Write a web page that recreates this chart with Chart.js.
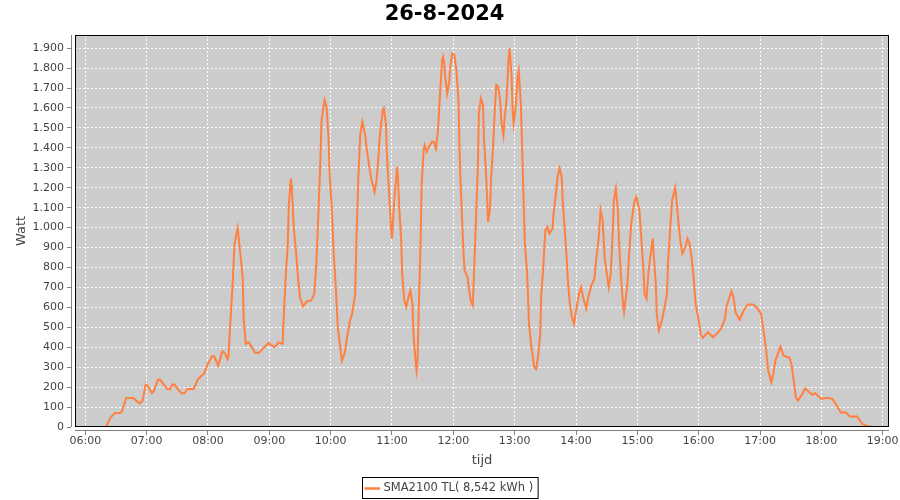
<!DOCTYPE html>
<html>
<head>
<meta charset="utf-8">
<script src="https://cdn.jsdelivr.net/npm/chart.js@4.4.1/dist/chart.umd.min.js"></script>
<style>
  html, body { margin: 0; padding: 0; background: #fff; }
  #wrap { width: 900px; height: 500px; }
</style>
</head>
<body>
<div id="wrap"><canvas id="chart"></canvas></div>
<script>
const chartTitle = "26-8-2024";
const seriesLabel = "SMA2100 TL( 8,542 kWh )";
const xTitle = "tijd";
const yTitle = "Watt";

const hourTicks = ["06:00", "07:00", "08:00", "09:00", "10:00", "11:00", "12:00",
  "13:00", "14:00", "15:00", "16:00", "17:00", "18:00", "19:00"];

// sample times (hh:mm) and power in watt
const times = [
  "06:04", "06:20", "06:25", "06:29", "06:34", "06:36", "06:40", "06:47", "06:49", "06:53",
  "06:56", "06:59", "07:01", "07:05", "07:07", "07:11", "07:13", "07:20", "07:23", "07:25",
  "07:27", "07:34", "07:37", "07:40", "07:46", "07:50", "07:54", "07:56", "08:00", "08:04",
  "08:06", "08:10", "08:14", "08:17", "08:19", "08:20", "08:22", "08:24", "08:26", "08:29",
  "08:32", "08:34", "08:35", "08:37", "08:40", "08:46", "08:50", "08:59", "09:05", "09:09",
  "09:13", "09:14", "09:16", "09:18", "09:19", "09:21", "09:22", "09:24", "09:26", "09:28",
  "09:30", "09:33", "09:37", "09:41", "09:44", "09:46", "09:48", "09:50", "09:51", "09:54",
  "09:56", "09:58", "09:59", "10:01", "10:03", "10:05", "10:07", "10:11", "10:14", "10:16",
  "10:19", "10:21", "10:24", "10:25", "10:27", "10:29", "10:31", "10:34", "10:35", "10:38",
  "10:40", "10:43", "10:45", "10:47", "10:48", "10:51", "10:52", "10:54", "10:55", "10:57",
  "10:59", "11:00", "11:02", "11:05", "11:06", "11:07", "11:09", "11:10", "11:12", "11:14",
  "11:16", "11:18", "11:20", "11:21", "11:23", "11:24", "11:25", "11:26", "11:28", "11:29",
  "11:31", "11:32", "11:34", "11:36", "11:39", "11:41", "11:43", "11:45", "11:47", "11:49",
  "11:50", "11:51", "11:52", "11:54", "11:56", "11:57", "11:59", "12:01", "12:03", "12:05",
  "12:06", "12:07", "12:09", "12:10", "12:11", "12:14", "12:15", "12:17", "12:19", "12:20",
  "12:22", "12:24", "12:25", "12:27", "12:29", "12:30", "12:32", "12:33", "12:34", "12:36",
  "12:37", "12:39", "12:41", "12:42", "12:44", "12:46", "12:47", "12:49", "12:50", "12:52",
  "12:54", "12:55", "12:56", "12:57", "12:58", "12:59", "13:01", "13:03", "13:04", "13:06",
  "13:07", "13:08", "13:09", "13:10", "13:12", "13:13", "13:14", "13:16", "13:18", "13:19",
  "13:21", "13:23", "13:25", "13:26", "13:28", "13:29", "13:30", "13:32", "13:34", "13:37",
  "13:38", "13:40", "13:42", "13:44", "13:46", "13:47", "13:49", "13:51", "13:52", "13:54",
  "13:56", "13:58", "14:00", "14:03", "14:05", "14:07", "14:10", "14:12", "14:15", "14:18",
  "14:20", "14:22", "14:24", "14:26", "14:28", "14:31", "14:32", "14:34", "14:36", "14:37",
  "14:39", "14:41", "14:42", "14:44", "14:46", "14:47", "14:50", "14:52", "14:54", "14:57",
  "14:59", "15:02", "15:04", "15:06", "15:07", "15:09", "15:11", "15:15", "15:16", "15:18",
  "15:19", "15:21", "15:24", "15:26", "15:29", "15:30", "15:32", "15:34", "15:37", "15:38",
  "15:40", "15:42", "15:44", "15:47", "15:49", "15:51", "15:53", "15:55", "15:57", "16:00",
  "16:02", "16:04", "16:09", "16:14", "16:19", "16:22", "16:24", "16:26", "16:27", "16:32",
  "16:34", "16:36", "16:40", "16:44", "16:48", "16:53", "16:57", "17:01", "17:03", "17:06",
  "17:08", "17:11", "17:13", "17:15", "17:20", "17:23", "17:29", "17:31", "17:33", "17:35",
  "17:37", "17:41", "17:44", "17:51", "17:54", "18:00", "18:05", "18:11", "18:15", "18:19",
  "18:24", "18:28", "18:35", "18:40", "18:44", "18:50"
];

const watts = [
  0, 0, 50, 70, 70, 80, 145, 145, 135, 118,
  132, 212, 207, 170, 180, 238, 238, 191, 190, 213,
  213, 169, 169, 191, 191, 238, 258, 266, 317, 355,
  355, 306, 380, 367, 340, 355, 534, 705, 920, 998,
  852, 744, 534, 417, 425, 372, 372, 422, 400, 424,
  417, 543, 752, 911, 1103, 1246, 1204, 995, 886, 752,
  651, 605, 631, 635, 668, 819, 1070, 1338, 1531, 1640,
  1606, 1439, 1271, 1103, 869, 701, 500, 333, 375, 450,
  534, 568, 668, 903, 1238, 1472, 1531, 1456, 1405, 1297,
  1238, 1179, 1238, 1372, 1456, 1589, 1598, 1523, 1372, 1187,
  1003, 945, 1121, 1305, 1238, 1103, 936, 769, 635, 601,
  651, 685, 618, 467, 333, 283, 333, 551, 936, 1222,
  1388, 1414, 1380, 1405, 1430, 1430, 1397, 1489, 1673, 1841,
  1857, 1824, 1757, 1673, 1732, 1807, 1874, 1866, 1790, 1640,
  1405, 1238, 986, 869, 785, 752, 701, 635, 610, 735,
  1020, 1305, 1573, 1648, 1615, 1439, 1271, 1154, 1028, 1103,
  1254, 1422, 1631, 1715, 1706, 1623, 1531, 1464, 1539, 1640,
  1841, 1899, 1832, 1757, 1589, 1523, 1606, 1757, 1787, 1623,
  1456, 1271, 1087, 920, 785, 668, 518, 417, 342, 300,
  291, 358, 467, 668, 802, 903, 986, 1003, 970, 995,
  1070, 1154, 1254, 1297, 1254, 1137, 986, 836, 735, 618,
  551, 518, 584, 668, 701, 651, 593, 651, 710, 744,
  852, 936, 1087, 1037, 852, 735, 701, 769, 986, 1137,
  1196, 1087, 936, 752, 618, 576, 701, 869, 1020, 1129,
  1154, 1087, 936, 785, 668, 643, 785, 945, 869, 718,
  568, 484, 534, 584, 668, 819, 986, 1137, 1201, 1154,
  1037, 936, 869, 903, 945, 920, 852, 752, 618, 534,
  467, 447, 475, 450, 475, 495, 520, 551, 601, 681,
  651, 576, 538, 584, 615, 615, 598, 568, 500, 383,
  283, 224, 266, 333, 403, 358, 347, 308, 233, 149,
  132, 162, 194, 162, 169, 141, 146, 141, 107, 73,
  73, 53, 53, 15, 7, 0
];

function toMin(hhmm) {
  const p = hhmm.split(":");
  return parseInt(p[0], 10) * 60 + parseInt(p[1], 10);
}
function fmtTime(v) {
  const h = Math.floor(v / 60), m = Math.round(v % 60);
  return String(h).padStart(2, "0") + ":" + String(m).padStart(2, "0");
}
function fmtWatt(v) {
  return String(v).replace(/\B(?=(\d{3})+(?!\d))/g, ".");
}

const lineColor = "#ff8040";
const labelColor = "#444444";
Chart.defaults.font.family = "'DejaVu Sans', sans-serif";

const plotFrame = {
  id: "plotFrame",
  beforeDraw(chart) {
    const { ctx, chartArea: a } = chart;
    ctx.save();
    ctx.fillStyle = "#cccccc";
    ctx.fillRect(a.left, a.top, a.right - a.left, a.bottom - a.top);
    ctx.restore();
  },
  afterDraw(chart) {
    const { ctx, chartArea: a } = chart;
    ctx.save();
    // gap between the plot and the axis lines
    ctx.fillStyle = "#ffffff";
    ctx.fillRect(a.left - 4, a.top, 4, a.bottom - a.top + 4);
    ctx.fillRect(a.left - 4, a.bottom, a.right - a.left + 4, 4);
    // axis lines
    ctx.strokeStyle = "#808080";
    ctx.lineWidth = 1;
    ctx.beginPath();
    ctx.moveTo(a.left - 3.5, a.top);
    ctx.lineTo(a.left - 3.5, a.bottom);
    ctx.moveTo(a.left, a.bottom + 3.5);
    ctx.lineTo(a.right, a.bottom + 3.5);
    ctx.stroke();
    // plot outline
    ctx.strokeStyle = "#000000";
    ctx.strokeRect(a.left + 0.5, a.top + 0.5, a.right - a.left - 1, a.bottom - a.top - 1);

    // legend box
    ctx.font = "11.5px 'DejaVu Sans', sans-serif";
    const tw = ctx.measureText(seriesLabel).width;
    const bw = 21 + tw + 5;
    const bx = Math.round(chart.width / 2 - bw / 2) + 0.5;
    const by = 477.5;
    ctx.strokeStyle = "#000000";
    ctx.strokeRect(bx, by, bw, 21);
    ctx.strokeStyle = lineColor;
    ctx.lineWidth = 2.5;
    ctx.beginPath();
    ctx.moveTo(bx + 2, by + 11);
    ctx.lineTo(bx + 17.5, by + 11);
    ctx.stroke();
    ctx.fillStyle = labelColor;
    ctx.textBaseline = "middle";
    ctx.fillText(seriesLabel, bx + 21, by + 11);
    ctx.restore();
  }
};

new Chart(document.getElementById("chart"), {
  type: "line",
  data: {
    datasets: [{
      label: seriesLabel,
      data: times.map((t, i) => ({ x: toMin(t), y: watts[i] })),
      borderColor: lineColor,
      backgroundColor: lineColor,
      borderWidth: 2,
      pointRadius: 0,
      tension: 0,
      fill: false,
    }],
  },
  options: {
    responsive: true,
    maintainAspectRatio: false,
    animation: false,
    devicePixelRatio: 1,
    layout: { padding: { left: 0, right: 11, top: 0, bottom: 32 } },
    plugins: {
      legend: { display: false },
      tooltip: { enabled: false },
      title: {
        display: true,
        text: chartTitle,
        color: "#000000",
        font: { size: 21, weight: "bold" },
        padding: { top: 2.4, bottom: 7.4 },
      },
    },
    scales: {
      x: {
        type: "linear",
        min: 349.92,
        max: 1146.16,
        afterBuildTicks: (s) => { s.ticks = hourTicks.map((h) => ({ value: toMin(h) })); },
        afterFit: (s) => { s.height = 41; },
        ticks: {
          callback: (v) => fmtTime(v),
          color: labelColor,
          font: { size: 11 },
          padding: 0,
          maxRotation: 0,
          autoSkip: false,
        },
        grid: { color: "#ffffff", tickColor: "#808080", tickLength: 8 },
        border: { display: false, dash: [2, 2] },
        title: {
          display: true,
          text: xTitle,
          color: labelColor,
          font: { size: 13 },
          padding: { top: 0, bottom: 0 },
        },
      },
      y: {
        min: 0,
        max: 1966,
        afterFit: (s) => { s.width = 75; },
        ticks: {
          stepSize: 100,
          includeBounds: false,
          callback: (v) => fmtWatt(v),
          color: labelColor,
          font: { size: 11 },
          padding: 3,
        },
        grid: { color: "#ffffff", tickColor: "#808080", tickLength: 8 },
        border: { display: false, dash: [2, 2] },
        title: {
          display: true,
          text: yTitle,
          color: labelColor,
          font: { size: 13 },
          padding: { top: 14, bottom: 0 },
        },
      },
    },
  },
  plugins: [plotFrame],
});
</script>
</body>
</html>
